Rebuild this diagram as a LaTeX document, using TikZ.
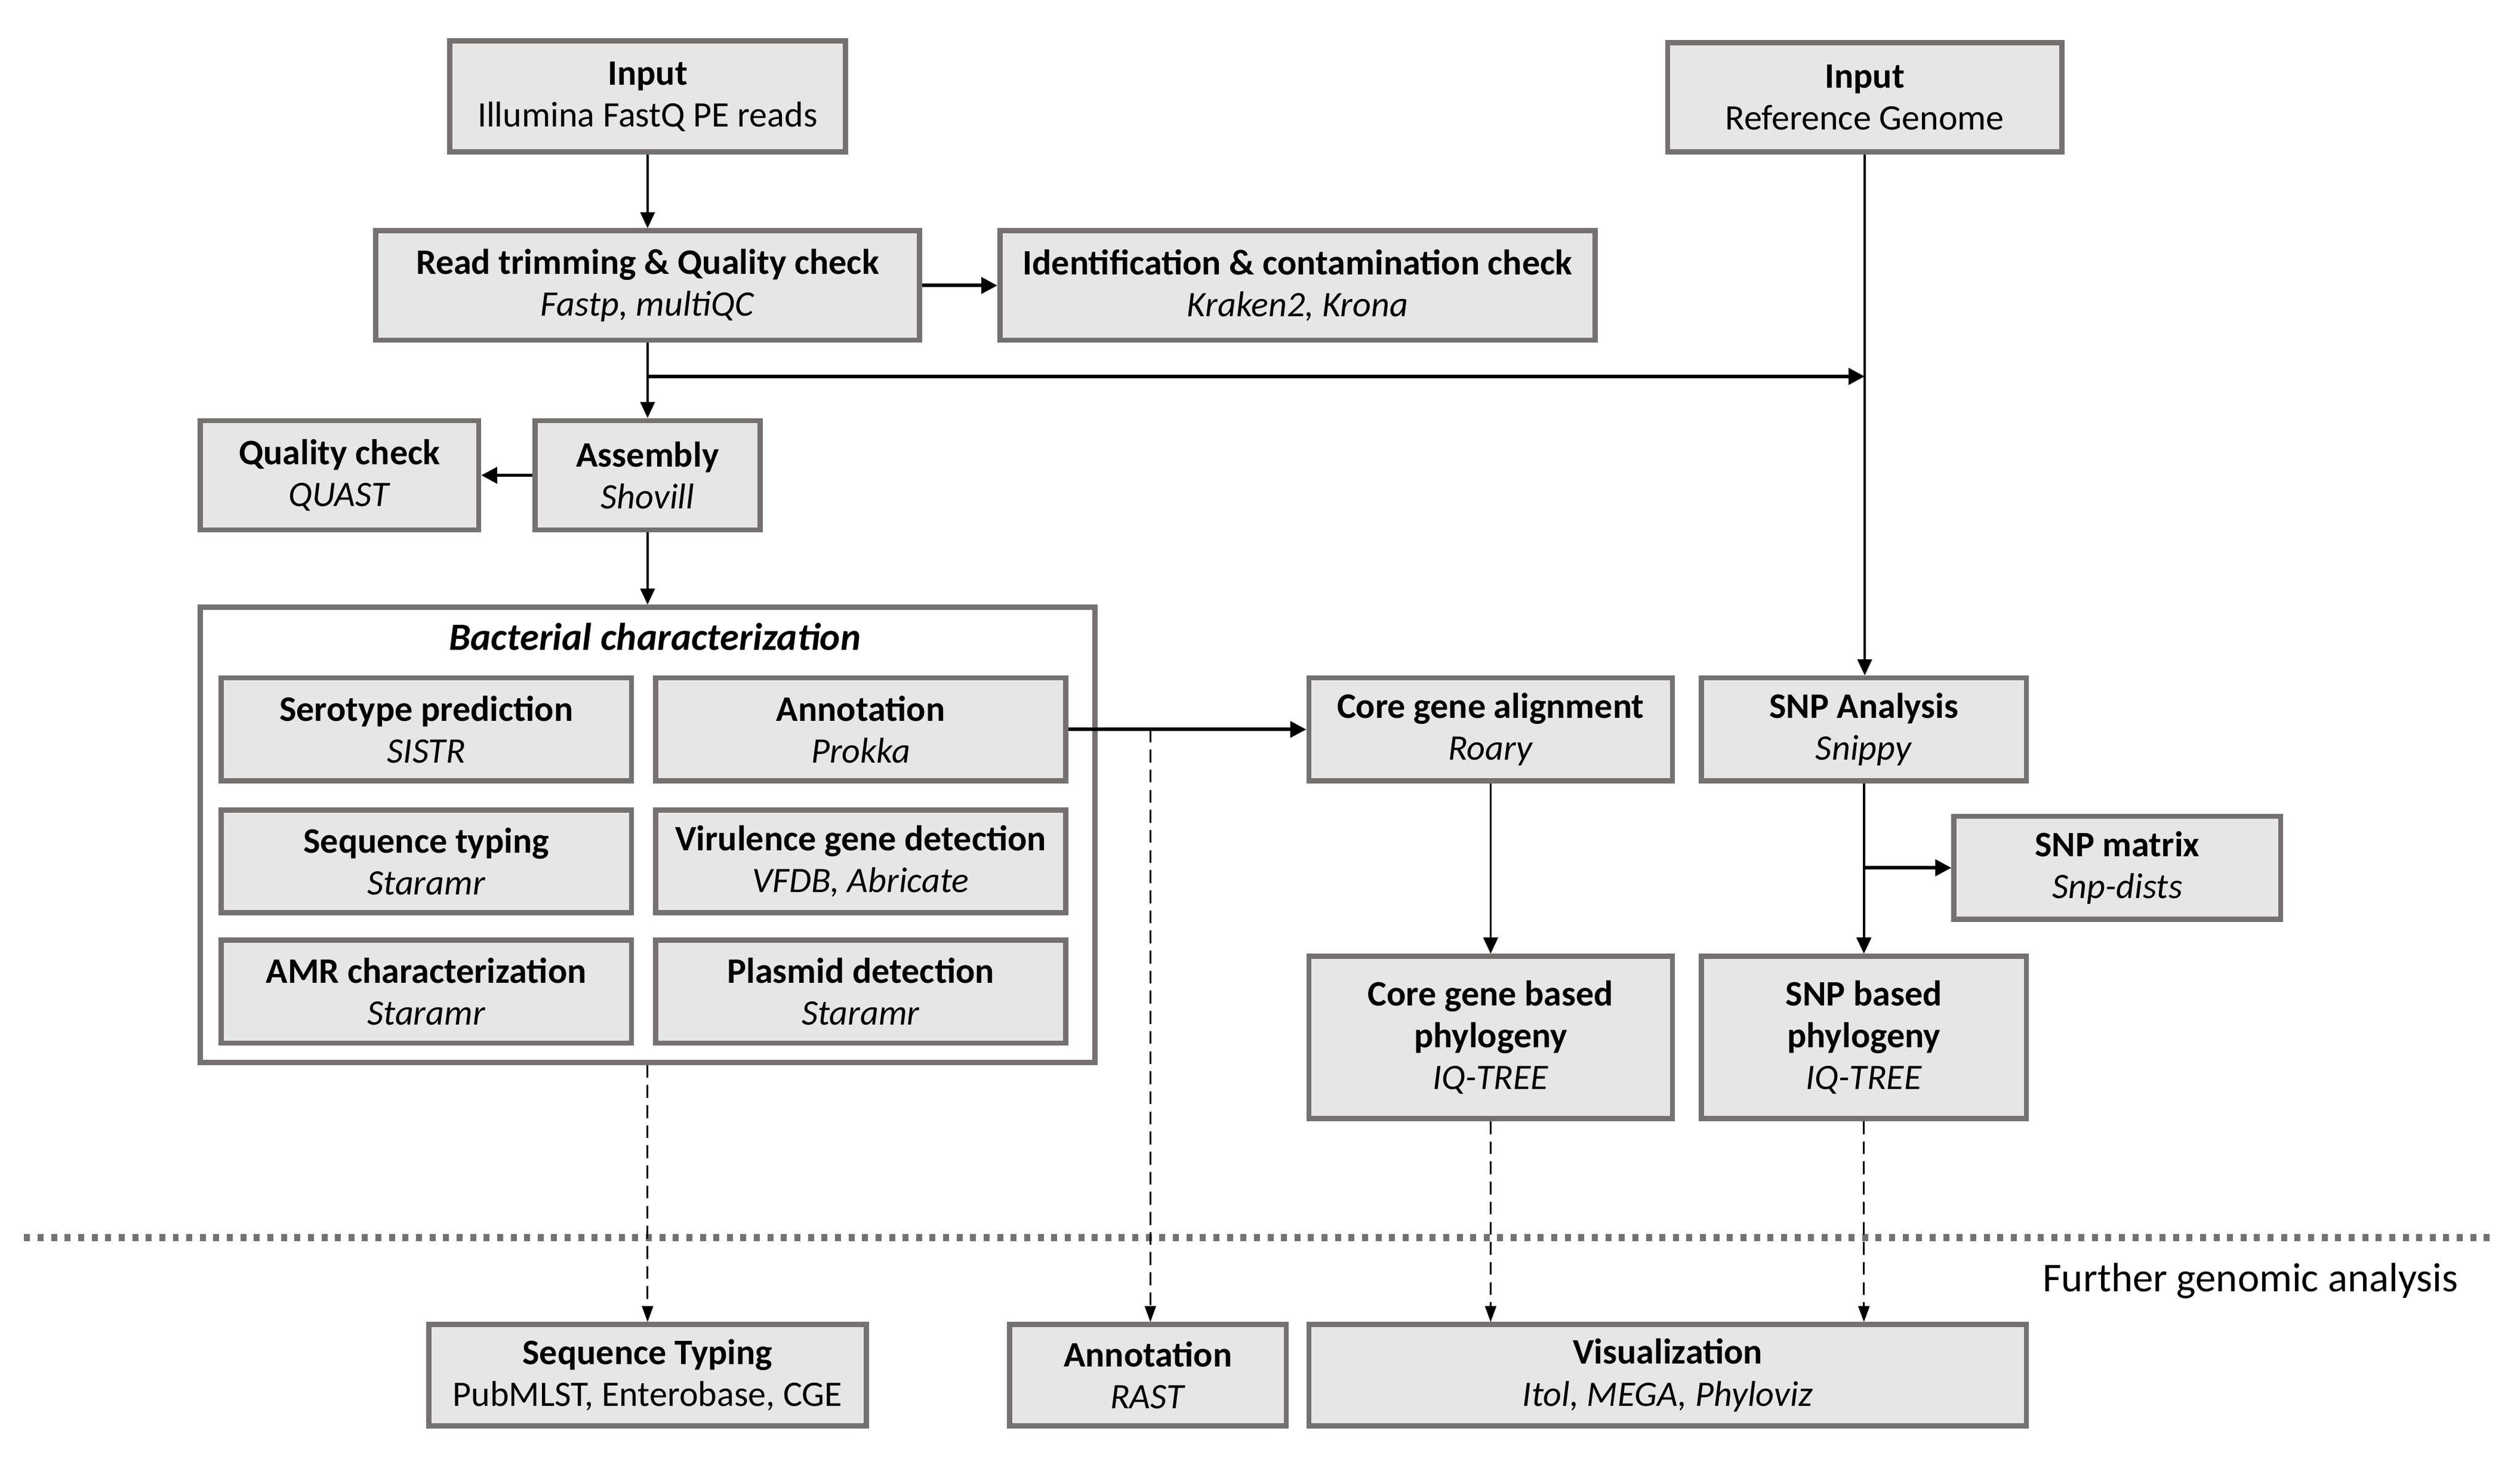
\documentclass[tikz,border=0pt]{standalone}
\usepackage{fontspec}
\setmainfont{Carlito}
\usetikzlibrary{arrows.meta,calc}
\definecolor{boxfill}{HTML}{E7E6E6}
\definecolor{boxline}{HTML}{767171}
\definecolor{sepline}{HTML}{767171}
\tikzset{
  box/.style={draw=boxline, fill=boxfill, line width=3.2pt, align=center, inner sep=0pt,
    font=\fontsize{22.3}{26}\selectfont},
  frame/.style={draw=boxline, fill=white, line width=3.2pt, inner sep=0pt},
  conn/.style={line width=1.3pt, -{Triangle[length=10pt,width=9pt]}},
  connthick/.style={line width=2.2pt, -{Triangle[length=10pt,width=10pt]}},
  dconn/.style={line width=1.1pt, dash pattern=on 8pt off 4.5pt, -{Triangle[length=10pt,width=7pt]}},
  sep/.style={draw=sepline, line width=4.3pt, dash pattern=on 3.7pt off 4.7pt},
  lbl/.style={font=\fontsize{22.3}{26}\selectfont, inner sep=0pt}
}
\newcommand{\bx}[2]{\textbf{#1}\\\textit{#2}}
\begin{document}
\begin{tikzpicture}[x=1pt,y=-1pt]
\useasboundingbox (0,0) rectangle (1566.3,906.7);
\fill[white] (0,0) rectangle (1566.3,906.7);

% top row
\node[box, minimum width=246, minimum height=69] (in1) at (402.5,60) {\textbf{Input}\\Illumina FastQ PE reads};
\node[box, minimum width=245, minimum height=68] (in2) at (1159,60.5) {\textbf{Input}\\Reference Genome};
\node[box, minimum width=338, minimum height=68] (trim) at (402.5,177.5) {\bx{Read trimming \& Quality check}{Fastp, multiQC}};
\node[box, minimum width=370, minimum height=68] (ident) at (806.5,177.5) {\bx{Identification \& contamination check}{Kraken2, Krona}};
\node[box, minimum width=173, minimum height=68] (qc) at (211,295.5) {\bx{Quality check}{QUAST}};
\node[box, minimum width=140, minimum height=68] (asm) at (402.5,295.5) {\bx{Assembly}{Shovill}};

% bacterial characterization container
\node[frame, minimum width=556, minimum height=283] (cont) at (402.5,519) {};
\node[lbl, font=\fontsize{24}{28}\selectfont\bfseries\itshape] (conttitle) at (407,396) {Bacterial characterization};
\node[box, minimum width=255, minimum height=64] (sero) at (265,453.5) {\bx{Serotype prediction}{SISTR}};
\node[box, minimum width=255, minimum height=64] (annot) at (535,453.5) {\bx{Annotation}{Prokka}};
\node[box, minimum width=255, minimum height=64] (seqt) at (265,535.5) {\bx{Sequence typing}{Staramr}};
\node[box, minimum width=255, minimum height=64] (vir) at (535,535.5) {\bx{Virulence gene detection}{VFDB, Abricate}};
\node[box, minimum width=255, minimum height=64] (amr) at (265,616.5) {\bx{AMR characterization}{Staramr}};
\node[box, minimum width=255, minimum height=64] (plas) at (535,616.5) {\bx{Plasmid detection}{Staramr}};

% right side
\node[box, minimum width=226, minimum height=64] (core) at (926.5,453.5) {\bx{Core gene alignment}{Roary}};
\node[box, minimum width=202, minimum height=64] (snp) at (1158.5,453.5) {\bx{SNP Analysis}{Snippy}};
\node[box, minimum width=203, minimum height=64] (mat) at (1316,539.5) {\bx{SNP matrix}{Snp-dists}};
\node[box, minimum width=226, minimum height=101] (corephy) at (926.5,645) {\textbf{Core gene based}\\\textbf{phylogeny}\\\textit{IQ-TREE}};
\node[box, minimum width=202, minimum height=101] (snpphy) at (1158.5,645) {\textbf{SNP based}\\\textbf{phylogeny}\\\textit{IQ-TREE}};

% bottom row
\node[box, minimum width=272, minimum height=63] (seqT) at (402.5,855) {\textbf{Sequence Typing}\\PubMLST, Enterobase, CGE};
\node[box, minimum width=172, minimum height=63] (rast) at (713.5,855) {\bx{Annotation}{RAST}};
\node[box, minimum width=446, minimum height=63] (vis) at (1036.5,855) {\bx{Visualization}{Itol, MEGA, Phyloviz}};

% separator
\coordinate (d1) at (15,769.5);
\coordinate (d2) at (1551,769.5);
\draw[sep] (d1) -- (d2);
\node[lbl, font=\fontsize{25.5}{30}\selectfont, anchor=base east] (further) at (1528,803) {Further genomic analysis};

% connectors
\draw[conn] (in1) -- (trim);
\draw[connthick] (trim) -- (ident);
\draw[conn] (trim) -- (asm);
\coordinate (j1) at (402.5,234);
\coordinate (j2) at (1159,234);
\draw[connthick] (j1) -- (j2);
\draw[conn] (in2.south) -- (in2.south |- snp.north);
\draw[connthick] (asm) -- (qc);
\draw[conn] (asm) -- (cont);
\draw[connthick] (annot.east) -- (core.west);
\coordinate (j3) at (715,453.5);
\draw[dconn] (j3) -- (j3 |- rast.north);
\draw[dconn] (cont.south) -- (seqT.north);
\draw[conn] (core) -- (corephy);
\draw[conn] (snp) -- (snpphy);
\coordinate (j4) at (1158.5,539.5);
\draw[connthick] (j4) -- (mat.west);
\draw[dconn] (corephy.south) -- (corephy.south |- vis.north);
\draw[dconn] (snpphy.south) -- (snpphy.south |- vis.north);
\end{tikzpicture}
\end{document}
